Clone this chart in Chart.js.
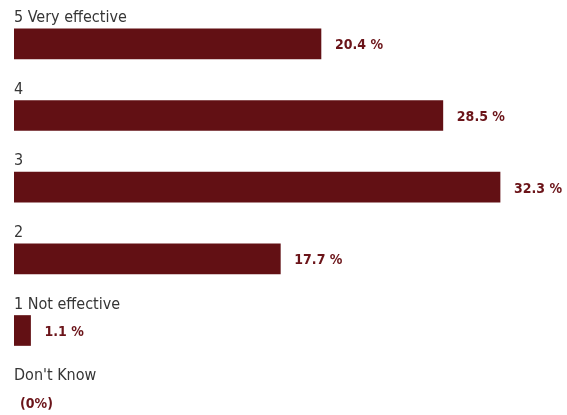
<!DOCTYPE html>
<html>
<head>
<meta charset="utf-8">
<script src="https://cdn.jsdelivr.net/npm/chart.js@4/dist/chart.umd.min.js"></script>
<style>
  html, body { margin: 0; padding: 0; background: #fff; overflow: hidden; }
  #wrap { position: relative; width: 567px; height: 438px; }
</style>
</head>
<body>
<div id="wrap"><canvas id="effectChart"></canvas></div>
<script>
const categories = ['5 Very effective', '4', '3', '2', '1 Not effective', "Don't Know"]
const percents = [20.4, 28.5, 32.3, 17.7, 1.1, 0]

const BAR_COLOR = '#621014'
const VALUE_COLOR = '#6b1419'
const LABEL_COLOR = '#363636'
const FONT = '"DejaVu Sans Condensed", "Noto Sans", sans-serif'

// category names sit above each bar, values to the right of the bar end
const barLabels = {
  id: 'barLabels',
  afterDatasetsDraw (chart) {
    const { ctx } = chart
    const meta = chart.getDatasetMeta(0)
    ctx.save()
    meta.data.forEach((bar, i) => {
      const top = bar.y - bar.height / 2
      ctx.font = '16px ' + FONT
      ctx.fillStyle = LABEL_COLOR
      ctx.textAlign = 'left'
      ctx.textBaseline = 'alphabetic'
      ctx.fillText(categories[i], 14, top - 7)

      ctx.font = 'bold 14px ' + FONT
      ctx.fillStyle = VALUE_COLOR
      ctx.textBaseline = 'middle'
      const v = percents[i]
      if (v === 0) ctx.fillText('(0%)', 20, bar.y + 2)
      else ctx.fillText(v.toFixed(1) + ' %', bar.x + 14, bar.y + 2)
    })
    ctx.restore()
  }
}

new Chart('effectChart', {
  type: 'bar',
  data: {
    labels: categories,
    datasets: [{
      data: percents,
      // empty answers get no visible sliver
      backgroundColor: percents.map(v => v > 0 ? BAR_COLOR : 'rgba(0,0,0,0)'),
      borderWidth: 0,
      barThickness: 30
    }]
  },
  options: {
    indexAxis: 'y',
    responsive: true,
    maintainAspectRatio: false,
    animation: false,
    layout: { padding: { left: 14, right: 0, top: 8, bottom: 0 } },
    plugins: { legend: { display: false }, tooltip: { enabled: false } },
    scales: {
      x: { display: false, min: 0, max: 36.75 },
      y: { display: false }
    }
  },
  plugins: [barLabels]
})
</script>
</body>
</html>
